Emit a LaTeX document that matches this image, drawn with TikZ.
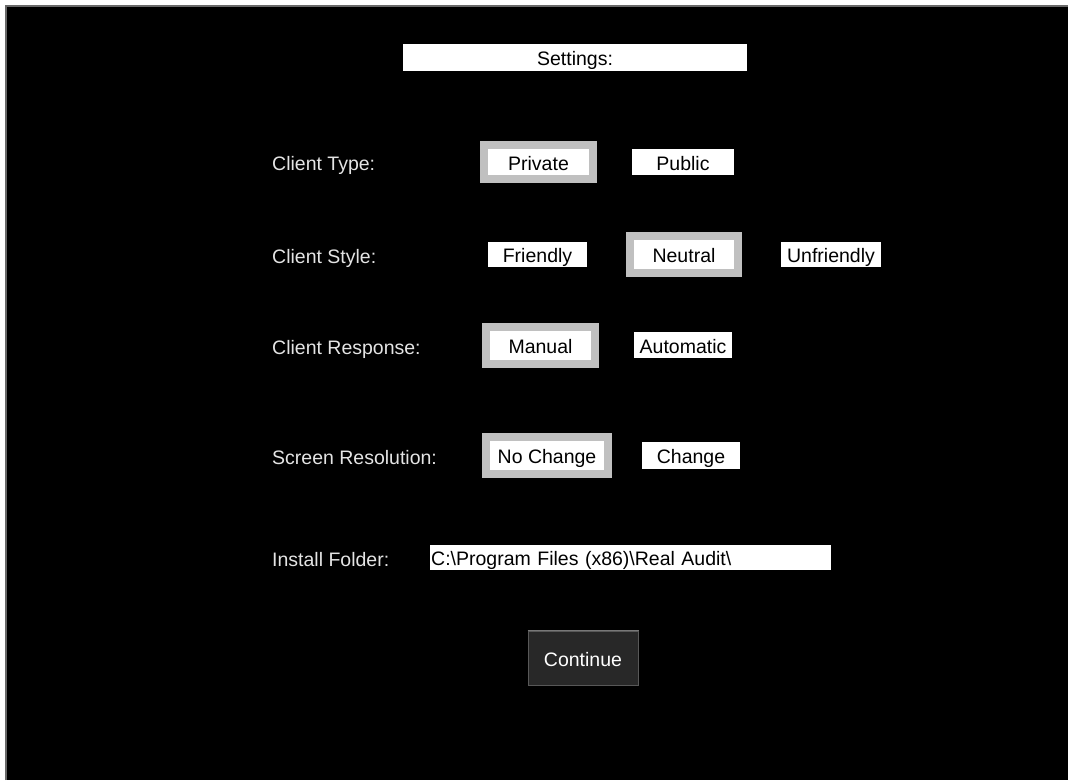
\documentclass[tikz,border=0pt]{standalone}
\usepackage{fontspec}
\setmainfont{Liberation Sans}
\definecolor{framegray}{RGB}{192,192,192}
\definecolor{labelgray}{RGB}{228,228,228}
\definecolor{edgegray}{RGB}{105,105,105}
\definecolor{btndark}{RGB}{40,40,40}
\definecolor{btnedge}{RGB}{120,120,120}
\tikzset{
  uifont/.style={font=\fontsize{19.5}{22}\selectfont, text height=18pt, text depth=2pt},
  lbl/.style={uifont, anchor=west, text=labelgray, inner sep=0pt},
  optbox/.style={uifont, fill=white, text=black, inner sep=0pt},
  selbox/.style={optbox, draw=framegray, line width=8pt},
}
\begin{document}
\begin{tikzpicture}[x=1pt,y=-1pt]
        \useasboundingbox (0,0) rectangle (1068,780);
        \fill[white] (0,0) rectangle (1068,780);
        \fill[black] (5,5) rectangle (1068,780);
        \draw[edgegray, line width=2pt] (6,780) -- (6,6) -- (1068,6);
        \node[optbox, minimum width=344pt, minimum height=27pt] (title) at (575,57.5) {Settings:};
        \node[lbl] (typelbl) at (272,162) {Client Type:};
        \node[selbox, minimum width=109pt, minimum height=34pt] (private) at (538.5,162) {Private};
        \node[optbox, minimum width=102pt, minimum height=26pt] (public) at (683,162) {Public};
        \node[lbl] (stylelbl) at (272,255) {Client Style:};
        \node[optbox, minimum width=99pt, minimum height=25pt] (friendly) at (537.5,254.5) {Friendly};
        \node[selbox, minimum width=108pt, minimum height=37pt] (neutral) at (684,254.5) {Neutral};
        \node[optbox, minimum width=100pt, minimum height=25pt] (unfriendly) at (831,254.5) {Unfriendly};
        \node[lbl] (resplbl) at (272,346) {Client Response:};
        \node[selbox, minimum width=109pt, minimum height=37pt] (manual) at (540.5,345.5) {Manual};
        \node[optbox, minimum width=98pt, minimum height=26pt] (automatic) at (683,345) {Automatic};
        \node[lbl] (reslbl) at (272,456) {Screen Resolution:};
        \node[selbox, minimum width=122pt, minimum height=37pt] (nochange) at (547,455.5) {No Change};
        \node[optbox, minimum width=98pt, minimum height=27pt] (change) at (691,455.5) {Change};
        \node[lbl] (folderlbl) at (272,558) {Install Folder:};
        \node[optbox, anchor=west, inner xsep=1pt, text width=399pt, align=left, minimum height=25pt] (folder) at (430,557.5) {C:\textbackslash Program Files (x86)\textbackslash Real Audit\textbackslash};
        \node[uifont, fill=btndark, draw=btnedge!60!btndark, line width=1pt, text=white, inner sep=0pt, minimum width=110pt, minimum height=54pt] (continue) at (583,658) {Continue};
        \draw[btnedge, line width=1.5pt] (continue.north west) -- (continue.north east);
    \end{tikzpicture}
\end{document}
